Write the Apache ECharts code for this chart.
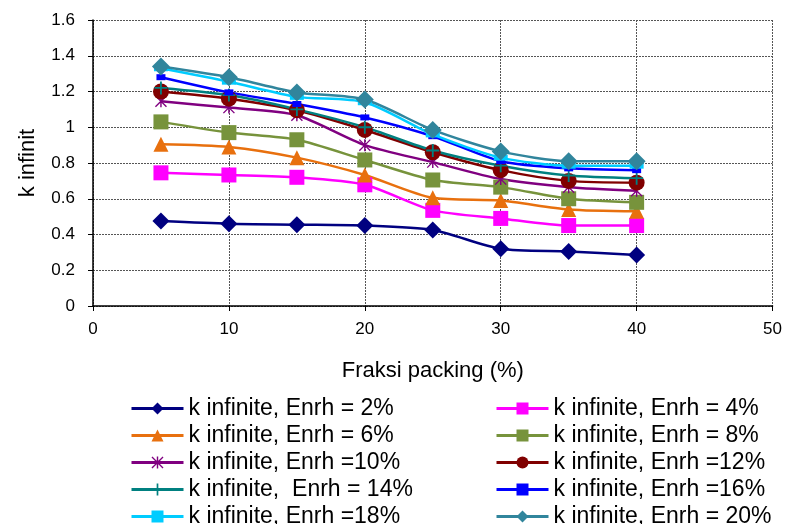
<!DOCTYPE html>
<html>
<head>
<meta charset="utf-8">
<script src="https://cdn.jsdelivr.net/npm/echarts@6/dist/echarts.min.js"></script>
<style>
  html, body { margin: 0; padding: 0; background: #fff; }
  #chart { width: 785px; height: 524px; }
</style>
</head>
<body>
<div id="chart"></div>
<script>
// fraksi packing (%)
var packing = [5, 10, 15, 20, 25, 30, 35, 40];

var names = [
    'k infinite, Enrh = 2%', 'k infinite, Enrh = 4%',
    'k infinite, Enrh = 6%', 'k infinite, Enrh = 8%',
    'k infinite, Enrh =10%', 'k infinite, Enrh =12%',
    'k infinite,  Enrh = 14%', 'k infinite, Enrh =16%',
    'k infinite, Enrh =18%', 'k infinite, Enrh = 20%'
];

var enrh2 = [0.475, 0.46, 0.455, 0.45, 0.425, 0.32, 0.305, 0.285];
var enrh4 = [0.745, 0.733, 0.72, 0.678, 0.535, 0.49, 0.45, 0.45];
var enrh6 = [0.905, 0.89, 0.83, 0.733, 0.605, 0.59, 0.54, 0.53];
var enrh8 = [1.03, 0.97, 0.93, 0.817, 0.705, 0.665, 0.6, 0.58];
var enrh10 = [1.145, 1.11, 1.067, 0.9, 0.805, 0.71, 0.665, 0.645];
var enrh12 = [1.2, 1.16, 1.095, 0.985, 0.86, 0.76, 0.7, 0.69];
var enrh14 = [1.22, 1.18, 1.1, 1.0, 0.87, 0.785, 0.73, 0.715];
var enrh16 = [1.28, 1.195, 1.13, 1.055, 0.95, 0.81, 0.77, 0.76];
var enrh18 = [1.33, 1.255, 1.17, 1.14, 0.96, 0.83, 0.785, 0.785];
var enrh20 = [1.34, 1.28, 1.195, 1.155, 0.985, 0.865, 0.81, 0.81];

var yTicks = [0, 0.2, 0.4, 0.6, 0.8, 1, 1.2, 1.4, 1.6];
var xTicks = [0, 10, 20, 30, 40, 50];

var FONT = 'Liberation Sans, Arial, sans-serif';

var asterisk = 'path://M4.4,0H5.6V10H4.4Z M0,0.8L0.8,0L10,9.2L9.2,10Z M9.2,0L10,0.8L0.8,10L0,9.2Z';
var plus = 'path://M4.3,0H5.7V10H4.3Z M0,4.3H10V5.7H0Z';

function makeSeries(name, data, color, symbol, size) {
    return {
        name: name,
        type: 'line',
        smooth: 0.25,
        data: packing.map(function (x, i) { return [x, data[i]]; }),
        symbol: symbol,
        symbolSize: size,
        showAllSymbol: true,
        lineStyle: { color: color, width: 2.5 },
        itemStyle: { color: color },
        emphasis: { disabled: true }
    };
}

var series = [
    makeSeries(names[0], enrh2, '#000080', 'diamond', 17),
    makeSeries(names[1], enrh4, '#ff00ff', 'rect', 15),
    makeSeries(names[2], enrh6, '#e8700e', 'triangle', 15),
    makeSeries(names[3], enrh8, '#77933c', 'rect', 15),
    makeSeries(names[4], enrh10, '#800080', asterisk, 12),
    makeSeries(names[5], enrh12, '#800000', 'circle', 16),
    makeSeries(names[6], enrh14, '#008080', plus, 13),
    makeSeries(names[7], enrh16, '#0000ff', 'rect', [9, 6]),
    makeSeries(names[8], enrh18, '#00ccff', 'rect', [14, 6]),
    makeSeries(names[9], enrh20, '#31859c', 'diamond', 18)
];

function legendBlock(left, data) {
    return {
        orient: 'vertical',
        left: left,
        top: 397,
        height: 140,
        padding: 0,
        itemWidth: 52,
        itemHeight: 15,
        itemGap: 4,
        data: data,
        lineStyle: { width: 3 },
        textStyle: { fontFamily: FONT, fontSize: 23, lineHeight: 22, color: '#000', padding: [0, 0, 0, 0] }
    };
}

var chart = echarts.init(document.getElementById('chart'), null, { renderer: 'canvas' });

chart.setOption({
    animation: false,
    backgroundColor: '#fff',
    grid: { left: 93, right: 12, top: 20, bottom: 218, containLabel: false },
    legend: [
        legendBlock(130, [names[0], names[2], names[4], names[6], names[8]]),
        legendBlock(495, [names[1], names[3], names[5], names[7], names[9]])
    ],
    xAxis: {
        type: 'value',
        min: xTicks[0],
        max: xTicks[xTicks.length - 1],
        interval: 10,
        name: 'Fraksi packing (%)',
        nameLocation: 'middle',
        nameGap: 54,
        nameTextStyle: { fontFamily: FONT, fontSize: 22, color: '#000' },
        axisLine: { lineStyle: { color: '#000', width: 1.5 } },
        axisTick: { show: true, length: 5, lineStyle: { color: '#000' } },
        axisLabel: { fontFamily: FONT, fontSize: 17, color: '#000', margin: 15 },
        splitLine: { show: true, lineStyle: { color: '#555', type: [2, 1], width: 1 } }
    },
    yAxis: {
        type: 'value',
        min: yTicks[0],
        max: yTicks[yTicks.length - 1],
        interval: 0.2,
        name: 'k infinit',
        nameLocation: 'middle',
        nameRotate: 90,
        nameGap: 54,
        nameTextStyle: { fontFamily: FONT, fontSize: 22, color: '#000' },
        axisLine: { show: true, lineStyle: { color: '#000', width: 1.5 } },
        axisTick: { show: true, length: 5, lineStyle: { color: '#000' } },
        axisLabel: { fontFamily: FONT, fontSize: 17, color: '#000', margin: 18 },
        splitLine: { show: true, lineStyle: { color: '#555', type: [2, 1], width: 1 } }
    },
    series: series
});
</script>
</body>
</html>
